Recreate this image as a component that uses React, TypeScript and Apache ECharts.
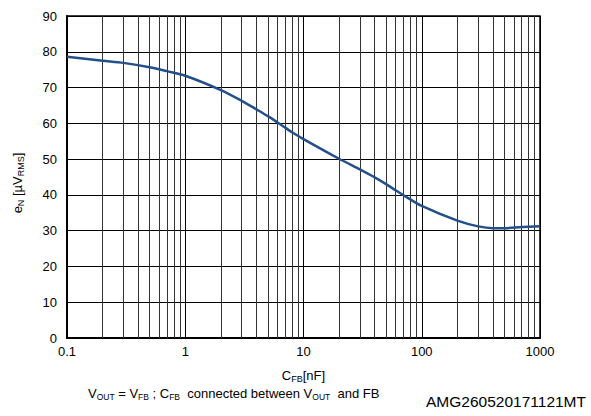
import React, { useEffect, useRef } from "react";
import * as echarts from "echarts";

const capValues: number[] = [0.1, 0.2, 0.3, 0.5, 0.7, 1, 2, 3, 4, 5, 6, 7, 8, 10, 20, 30, 40, 50, 60, 70, 100, 200, 300, 400, 500, 700, 1000];
const noiseValues: number[] = [78.6, 77.5, 76.9, 75.7, 74.6, 73.3, 69.3, 66.3, 63.9, 62.0, 60.3, 58.8, 57.5, 55.6, 50.1, 47.1, 44.9, 43.0, 41.3, 39.9, 36.9, 32.8, 31.2, 30.7, 30.7, 31.0, 31.2];
const decades: number[] = [0.1, 1, 10, 100];
const minorSteps: number[] = [2, 3, 4, 5, 6, 7, 8, 9];

const FONT = "'Liberation Sans', Arial, sans-serif";

export default function App() {
  const ref = useRef<HTMLDivElement>(null);
  useEffect(() => {
    document.body.style.margin = "0";
    if (!ref.current) return;
    const chart = echarts.init(ref.current, null, { renderer: "svg" });
    const minorLines: any[] = [];
    decades.forEach((d) => minorSteps.forEach((k) => minorLines.push({ xAxis: +(d * k).toPrecision(6) })));
    const nameRich = {
      m: { fontSize: 13, fontFamily: FONT, color: "#000", lineHeight: 16, verticalAlign: "middle" },
      s: { fontSize: 9, fontFamily: FONT, color: "#000", lineHeight: 16, verticalAlign: "bottom", padding: [6, 0, 0, 0] },
    };
    const option: any = {
      animation: false,
      backgroundColor: "#fff",
      grid: { left: 67, top: 16, right: 51, bottom: 78, show: true, borderColor: "#000", borderWidth: 1.5, backgroundColor: "transparent" },
      xAxis: {
        type: "log",
        logBase: 10,
        min: 0.1,
        max: 1000,
        name: "{m|C}{s|FB}{m|[nF]}",
        nameLocation: "middle",
        nameGap: 29,
        nameTextStyle: { rich: nameRich },
        axisLine: { show: true, lineStyle: { color: "#000", width: 2 } },
        axisTick: { show: false },
        axisLabel: {
          color: "#000",
          fontSize: 13,
          fontFamily: FONT,
          margin: 7,
          formatter: (v: number) => (v < 1 ? v.toFixed(1) : String(Math.round(v))),
        },
        splitLine: { show: true, lineStyle: { color: "#000", width: 1 } },
      },
      yAxis: {
        type: "value",
        min: 0,
        max: 90,
        interval: 10,
        name: "{m|e}{s|N}{m| [µV}{s|RMS}{m|]}",
        nameLocation: "middle",
        nameGap: 42,
        nameRotate: 90,
        nameTextStyle: { rich: nameRich, padding: [0, 12, 0, 0] },
        axisLine: { show: true, lineStyle: { color: "#000", width: 2 } },
        axisTick: { show: false },
        axisLabel: { color: "#000", fontSize: 13, fontFamily: FONT, margin: 10 },
        splitLine: { show: true, lineStyle: { color: "#000", width: 1 } },
      },
      series: [
        {
          type: "line",
          data: capValues.map((c, i) => [c, noiseValues[i]]),
          smooth: 0.3,
          showSymbol: false,
          lineStyle: { color: "#23508a", width: 2.5 },
          z: 5,
          markLine: {
            silent: true,
            symbol: "none",
            label: { show: false },
            lineStyle: { color: "#333", width: 1, type: "solid" },
            data: minorLines,
            z: 1,
          },
        },
      ],
      graphic: [
        {
          type: "text",
          left: 88,
          top: 387,
          style: {
            text: "{m|V}{s|OUT}{m| = V}{s|FB}{m| ; C}{s|FB}{m|  connected between V}{s|OUT}{m|  and FB}",
            rich: {
              m: { fontSize: 13, fontFamily: FONT, fill: "#000", lineHeight: 16, verticalAlign: "middle" },
              s: { fontSize: 8.5, fontFamily: FONT, fill: "#000", lineHeight: 16, verticalAlign: "bottom", padding: [4, 0, 0, 0] },
            },
          },
        },
        {
          type: "text",
          right: 5,
          top: 393,
          style: { text: "AMG260520171121MT", fontSize: 15.5, fontFamily: FONT, fill: "#000" },
        },
      ],
    };
    chart.setOption(option);
    return () => chart.dispose();
  }, []);
  return <div ref={ref} style={{ width: 591, height: 416 }} />;
}
